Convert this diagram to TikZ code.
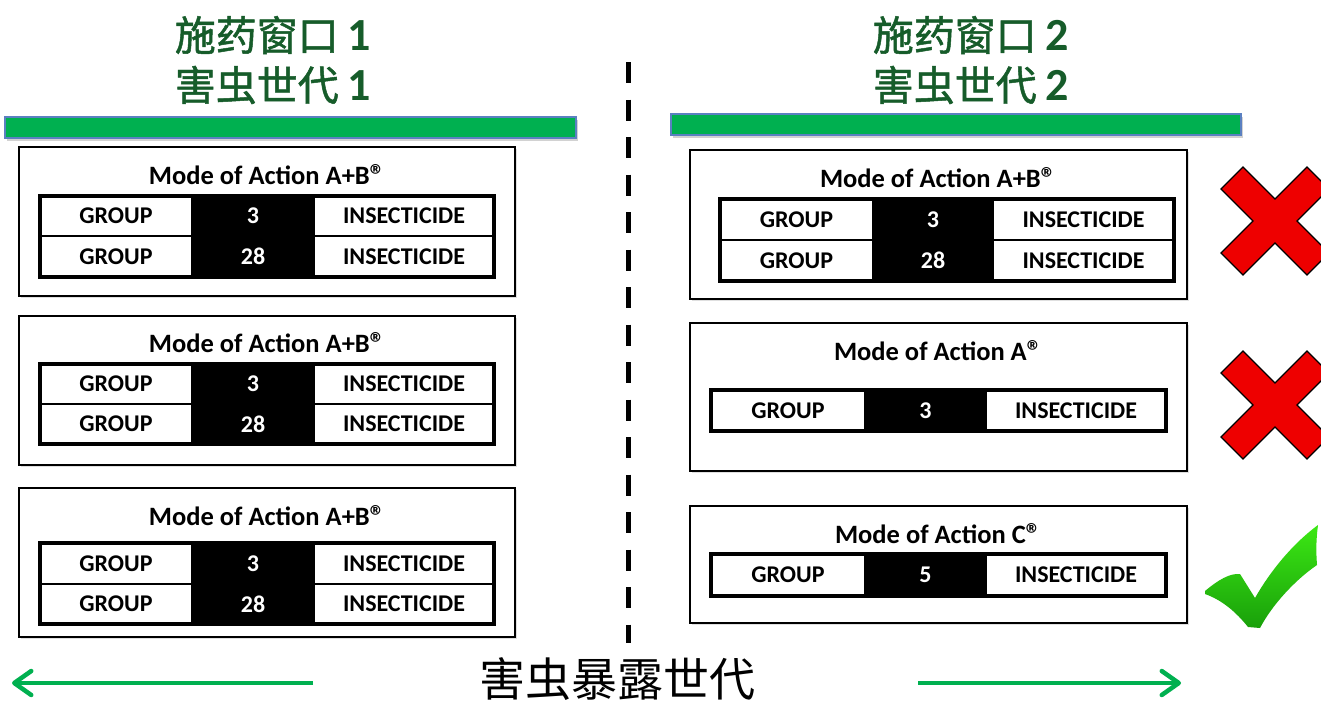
\documentclass[tikz,border=0pt]{standalone}
\usepackage{fontspec}
\setmainfont{Carlito}
\newfontfamily\cjk{Noto Sans CJK SC}
\newfontfamily\cjkt{Noto Sans CJK SC}[FakeBold=1.2]
\usetikzlibrary{fit,arrows.meta,shadows}
\definecolor{titlegreen}{RGB}{22,92,42}
\definecolor{bargreen}{RGB}{0,176,80}
\definecolor{barblue}{RGB}{91,128,193}
\definecolor{arrowgreen}{RGB}{0,176,80}
\definecolor{xred}{RGB}{238,0,0}
\definecolor{checkhi}{RGB}{60,232,20}
\definecolor{checklo}{RGB}{25,160,10}
\newcommand\regmark{{\fontsize{30}{30}\selectfont\raisebox{-1pt}{®}}}
% #1 name, #2-#5 column x, #6 top y, #7 bottom y, #8 group number
\newcommand\moarow[8]{%
  \node[wcell, fit={(#2,#6)(#3,#7)}] (#1g) {};
  \node[bcell, fit={(#3,#6)(#4,#7)}] (#1n) {};
  \node[wcell, fit={(#4,#6)(#5,#7)}] (#1i) {};
  \node[ctext] (#1gt) at (#1g.center) {GROUP};
  \node[ctext, text=white] (#1nt) at (#1n.center) {#8};
  \node[ctext] (#1it) at (#1i.center) {INSECTICIDE};
}
\begin{document}
\begin{tikzpicture}[x=1pt,y=-1pt,
  wcell/.style={draw=black, line width=1.5pt, fill=white, inner sep=0pt},
  bcell/.style={draw=black, line width=1.5pt, fill=black, inner sep=0pt},
  ctext/.style={inner sep=0pt, font=\fontsize{24}{24}\selectfont\bfseries},
  tframe/.style={draw=black, line width=3.5pt, inner sep=0pt},
  mbox/.style={draw=black, line width=1.5pt, fill=white, inner sep=0pt, drop shadow={shadow xshift=1.5pt, shadow yshift=-1.5pt, opacity=0.25}},
  mtitle/.style={font=\fontsize{26.5}{26.5}\selectfont\bfseries, inner sep=0pt},
  ttl/.style={text=titlegreen, inner sep=0pt, font=\fontsize{41}{41}\selectfont},
  gbar/.style={fill=bargreen, draw=barblue, line width=1.5pt, inner sep=0pt, drop shadow={shadow xshift=2pt, shadow yshift=-3pt, opacity=0.35}},
  garrow/.style={draw=arrowgreen, line width=4.5pt, -{Straight Barb[length=17pt, width=24pt, line width=4.5pt, round]}},
  xmark/.style={fill=xred, draw=black, line width=1.3pt, line join=miter},
]
\clip (0,0) rectangle (1321,702);
\fill[white] (0,0) rectangle (1321,702);

% titles
\node[ttl] (t1a) at (273,35) {\cjkt 施药窗口 \normalfont\fontsize{46}{46}\selectfont\bfseries 1};
\node[ttl] (t1b) at (273,85) {\cjkt 害虫世代 \normalfont\fontsize{46}{46}\selectfont\bfseries 1};
\node[ttl] (t2a) at (971,35) {\cjkt 施药窗口 \normalfont\fontsize{46}{46}\selectfont\bfseries 2};
\node[ttl] (t2b) at (971,85) {\cjkt 害虫世代 \normalfont\fontsize{46}{46}\selectfont\bfseries 2};

% bars
\node[gbar, fit={(5,117)(576,138)}] (barL) {};
\node[gbar, fit={(671,114)(1241,135)}] (barR) {};

% dashed divider
\coordinate (dtop) at (628,62);
\coordinate (dbot) at (628,643);
\draw[line width=5pt, dash pattern=on 21pt off 16.5pt] (dtop) -- (dbot);

% left boxes
\node[mbox, fit={(19,147)(515,296)}] (L1) {};
\node[mtitle] (L1t) at (267,175) {Mode of Action A+B\regmark};
\moarow{L1a}{40}{192}{314}{494}{196}{236}{3}
\moarow{L1b}{40}{192}{314}{494}{236}{277}{28}
\node[tframe, fit={(40,196)(494,277)}] (L1f) {};

\node[mbox, fit={(19,316)(515,465)}] (L2) {};
\node[mtitle] (L2t) at (267,343) {Mode of Action A+B\regmark};
\moarow{L2a}{40}{192}{314}{494}{364}{404}{3}
\moarow{L2b}{40}{192}{314}{494}{404}{444}{28}
\node[tframe, fit={(40,364)(494,444)}] (L2f) {};

\node[mbox, fit={(19,488)(515,637)}] (L3) {};
\node[mtitle] (L3t) at (267,516) {Mode of Action A+B\regmark};
\moarow{L3a}{40}{192}{314}{494}{543}{584}{3}
\moarow{L3b}{40}{192}{314}{494}{584}{624}{28}
\node[tframe, fit={(40,543)(494,624)}] (L3f) {};

% right boxes
\node[mbox, fit={(690,150)(1187,299)}] (R1) {};
\node[mtitle] (R1t) at (938,178) {Mode of Action A+B\regmark};
\moarow{R1a}{720}{873}{993}{1174}{199}{240}{3}
\moarow{R1b}{720}{873}{993}{1174}{240}{281}{28}
\node[tframe, fit={(720,199)(1174,281)}] (R1f) {};

\node[mbox, fit={(690,323)(1187,471)}] (R2) {};
\node[mtitle] (R2t) at (938,351) {Mode of Action A\regmark};
\moarow{R2a}{711}{865}{986}{1166}{390}{431}{3}
\node[tframe, fit={(711,390)(1166,431)}] (R2f) {};

\node[mbox, fit={(690,506)(1187,623)}] (R3) {};
\node[mtitle] (R3t) at (938,534) {Mode of Action C\regmark};
\moarow{R3a}{711}{865}{986}{1166}{554}{596}{5}
\node[tframe, fit={(711,554)(1166,596)}] (R3f) {};

% red crosses
\draw[xmark, shift={(1275,221)}] (0,-22) -- (32,-54) -- (54,-32) -- (22,0) -- (54,32) -- (32,54) -- (0,22) -- (-32,54) -- (-54,32) -- (-22,0) -- (-54,-32) -- (-32,-54) -- cycle;
\draw[xmark, shift={(1275,405)}] (0,-22) -- (32,-54) -- (54,-32) -- (22,0) -- (54,32) -- (32,54) -- (0,22) -- (-32,54) -- (-54,32) -- (-22,0) -- (-54,-32) -- (-32,-54) -- cycle;

% check mark
\shade[top color=checkhi, bottom color=checklo]
  (1205,591) .. controls (1218,580) and (1230,573) .. (1240,574)
  -- (1255,598)
  .. controls (1272,568) and (1295,542) .. (1318,525)
  .. controls (1316,540) and (1316,552) .. (1317,565)
  .. controls (1295,580) and (1272,605) .. (1260,628)
  -- (1248,627)
  .. controls (1236,612) and (1222,600) .. (1205,594) -- cycle;

% bottom arrows and label
\coordinate (al1) at (313,683);
\coordinate (al2) at (12,683);
\coordinate (ar1) at (918,683);
\coordinate (ar2) at (1181,683);
\draw[garrow] (al1) -- (al2);
\draw[garrow] (ar1) -- (ar2);
\node[inner sep=0pt, font=\fontsize{46}{46}\selectfont] (gen) at (617,679) {\cjk 害虫暴露世代};
\end{tikzpicture}
\end{document}
